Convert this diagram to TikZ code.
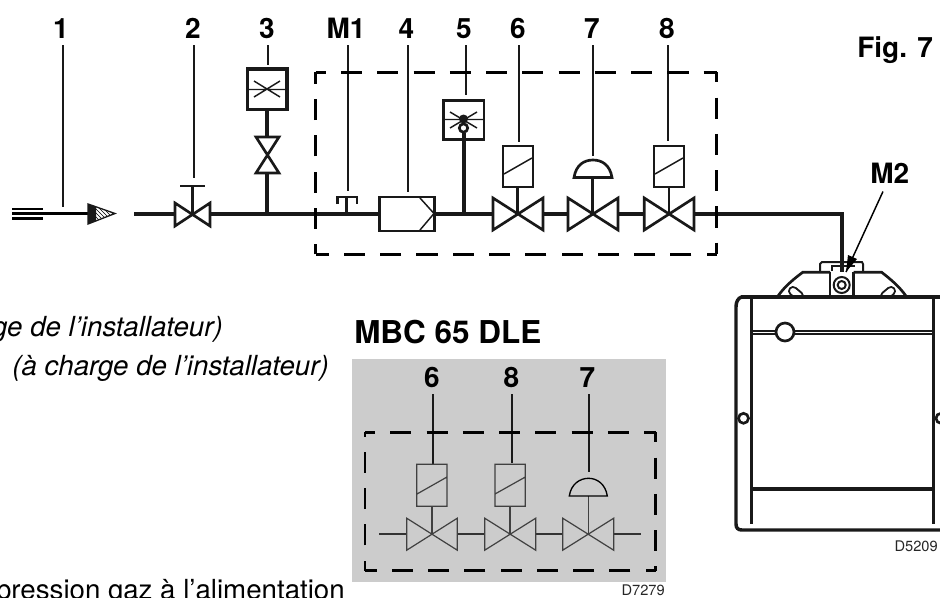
\documentclass[tikz,border=0pt]{standalone}
\usepackage{fontspec}
\setmainfont{TeX Gyre Heros}
\usetikzlibrary{patterns}
\tikzset{
  lbl/.style={font=\fontsize{21pt}{21pt}\selectfont\bfseries,inner sep=0pt,anchor=base},
  captxt/.style={font=\fontsize{20.75pt}{22pt}\selectfont\itshape,inner sep=0pt,anchor=base east},
  reftxt/.style={font=\fontsize{11pt}{11pt}\selectfont,inner sep=0pt,anchor=base east,text=black!85},
  leadline/.style={line width=1.5pt,black!90},
  pipeline/.style={line width=3pt,black!90},
  symline/.style={line width=2pt,black!90,line join=miter},
  fineline/.style={line width=1.1pt,black!90},
  dshline/.style={line width=2.2pt,black,dash pattern=on 15.8pt off 11.4pt,dash phase=8.2pt},
  gsym/.style={line width=.9pt,black!75},
  gpipe/.style={line width=1.3pt,black!80},
  bodyline/.style={line width=2.6pt,black!90},
  thinb/.style={line width=1.5pt,black!90}
}
\newcommand{\myvalve}[5]{%
  \draw[#5] (#1,#4-16) -- (#1,#4+16) -- (#2,#4-16) -- (#2,#4+16) -- cycle;}
\newcommand{\dbox}[4]{%
  \draw[dshline] (#1,#2) -- (#3,#2);
  \draw[dshline] (#3,#4) -- (#1,#4);
  \draw[dshline] (#1,#4) -- (#1,#2);
  \draw[dshline] (#3,#2) -- (#3,#4);}
\begin{document}
\begin{tikzpicture}[x=0.75pt,y=-0.75pt]
\useasboundingbox (0,0) rectangle (940,597);
\clip (0,0) rectangle (940,597);
% labels
\node[lbl] (l1) at (61,38) {1};
\node[lbl] (l2) at (193,38) {2};
\node[lbl] (l3) at (267,38) {3};
\node[lbl] (lm1) at (346,38) {M1};
\node[lbl] (l4) at (406.5,38) {4};
\node[lbl] (l5) at (464,38) {5};
\node[lbl] (l6) at (518,38) {6};
\node[lbl] (l7) at (592,38) {7};
\node[lbl] (l8) at (667,38) {8};
\node[lbl,anchor=base west] (fig) at (857,57) {Fig. 7};
\node[lbl,anchor=base west] (m2) at (870,183) {M2};
% leaders
\foreach \x/\yy in {63/207,194/178,268/65,348/191,408/192,466/95,519/142,593/156,668/141}
  \draw[leadline] (\x,45) -- (\x,\yy);
% item 1
\draw[line width=1.6pt] (12,209) -- (43,209) (12,213.5) -- (88,213.5) (12,218.5) -- (43,218.5);
\path[draw=black!90,line width=1pt,pattern=north west lines,pattern color=black] (88,204) -- (115,213.5) -- (88,224) -- cycle;
\fill[black!90] (88,204) -- (96,207) -- (96,221) -- (88,224) -- cycle;
% main pipe
\draw[pipeline] (134,213.5) -- (175,213.5);
\draw[pipeline] (210,213.5) -- (379,213.5);
\draw[pipeline] (435,213.5) -- (493,213.5);
\draw[pipeline] (543,213.5) -- (568,213.5);
\draw[pipeline] (618,213.5) -- (644,213.5);
\draw[pipeline,line join=miter] (694,213.5) -- (842.3,213.5) -- (842.3,272);
% valve 2
\draw[symline] (175,203) -- (175,226) -- (210,203) -- (210,226) -- cycle;
\draw[symline] (192.5,214) -- (192.5,186) (180,186) -- (205,186);
% item 3
\draw[symline,line width=2.6pt] (247.5,69) rectangle (287,109.5);
\draw[fineline] (249,89.5) -- (285,89.5) (254,81) -- (280,97) (254,97) -- (280,81);
\draw[pipeline] (267,110) -- (267,137);
\draw[symline] (256,137) -- (279,137) -- (256,173) -- (279,173) -- cycle;
\draw[pipeline] (267,173) -- (267,213.5);
% dashed box
\dbox{315.7}{72.3}{716.7}{254.3}
% M1
\draw[symline] (346.7,213) -- (346.7,197) (337.5,204) -- (337.5,197) -- (357,197) -- (357,204);
% filter
\draw[symline,fill=white] (379.5,197) rectangle (434.5,231);
\draw[fineline] (420,198) -- (434,213.5) -- (420,230);
% item 5
\draw[symline] (443.5,99) -- (443.5,139.5) -- (484,139.5) -- (484,99) (443.5,100.5) -- (484,100.5);
\draw[fineline] (444,119.5) -- (484,119.5) (450,112) -- (477,128) (450,128) -- (477,112);
\fill[black!90] (463.5,119) circle (4.5);
\draw[symline,fill=white] (463.5,128) circle (4.2);
\draw[pipeline] (463.8,133) -- (463.8,213.5);
% valve 6
\myvalve{493}{543}{517.5}{214}{symline}
\draw[symline] (517.5,214) -- (517.5,187);
\draw[symline,fill=white] (503,146) rectangle (533,187);
\draw[fineline] (504,174) -- (532,158);
% valve 7
\myvalve{568}{618}{592.7}{214}{symline}
\draw[symline] (592.7,214) -- (592.7,177.5);
\draw[symline,fill=white] (574,177.5) .. controls (576,165) and (584,160) .. (593,160) .. controls (602,160) and (610,165) .. (612,177.5) -- cycle;
% valve 8
\myvalve{644.3}{694}{669}{214}{symline}
\draw[symline] (669,214) -- (669,187);
\draw[symline,fill=white] (654,146) rectangle (684,187);
\draw[fineline] (655,174) -- (683,158);
% caption text
\node[captxt] (t1) at (223,336.7) {ge de l’installateur)};
\node[captxt] (t2) at (329,375) {(à charge de l’installateur)};
\node[captxt,font=\fontsize{20.75pt}{22pt}\selectfont,anchor=base east] (t3) at (345,599.5) {pression gaz à l’alimentation};
% MBC panel
\node[lbl,anchor=base west,font=\fontsize{23.6pt}{24pt}\selectfont\bfseries] (mbc) at (354,343) {MBC 65 DLE};
\fill[black!20] (352.3,359.3) rectangle (665.7,581.7);
\node[lbl] (g6) at (432,387) {6};
\node[lbl] (g8) at (511.5,387) {8};
\node[lbl] (g7) at (587.5,387) {7};
\foreach \x/\yy in {433/464,512/463,588.7/472}
  \draw[leadline] (\x,394) -- (\x,\yy);
\dbox{365}{432.3}{655.7}{570.7}
\draw[gpipe] (379.3,534) -- (406.7,534) (457.3,534) -- (484.7,534) (535.7,534) -- (562.7,534) (613.7,534) -- (641,534);
\myvalve{406.7}{457.3}{432}{534.2}{gsym}
\myvalve{484.7}{535.7}{510}{534.2}{gsym}
\myvalve{562.7}{613.7}{588}{534.2}{gsym}
\draw[gsym] (432,534) -- (432,506) (510,534) -- (510,506) (588.6,534) -- (588.6,496);
\draw[gsym] (416.7,464.3) rectangle (447,506.3) (417,494) -- (447,477);
\draw[gsym] (495,464.3) rectangle (525.3,506.3) (495,494) -- (525.3,477);
\draw[gsym,line width=1pt,black] (569.3,496) .. controls (571,484) and (580,478.3) .. (588.5,478.3) .. controls (597,478.3) and (605.5,484) .. (607.3,496) -- cycle;
\node[reftxt] (d1) at (665,595.5) {D7279};
% burner
\draw[bodyline] (741.5,297) .. controls (738,298) and (736,302) .. (736,307) -- (736,524) .. controls (736,528) and (738,530) .. (742,530) -- (940,530);
\draw[bodyline] (751.7,297) -- (751.7,523.5) (933.3,297) -- (933.3,523.5);
\draw[thinb] (752,330.5) -- (933,330.5) (752,334) -- (933,334);
\draw[bodyline] (752,489) -- (933,489);
\draw[thinb,line width=2pt,fill=white] (785,332) circle (9);
\draw[thinb,line width=2pt,fill=white] (743.5,418.3) circle (5);
\draw[thinb,line width=2pt,fill=white] (941,418.3) circle (5);
\draw[symline] (778,296) .. controls (785,286) and (795,278) .. (802.7,272.3) -- (830,272.3) (853.5,272.3) -- (881.7,272.3) .. controls (889,278) and (899,286) .. (906,296);
\draw[thinb] (820,271) -- (820,264) -- (822,262) -- (862,262) -- (863,264) -- (863,271);
\draw[thinb] (832,271) -- (832,266) -- (855,266);
\draw[symline] (830,272) -- (830,296) (853.5,272) -- (853.5,296);
\draw[thinb] (841.7,285) circle (8) (841.7,285) circle (4);
\draw[line width=7.5pt,black!90,line cap=round] (793,291) -- (799,296);
\draw[line width=4.5pt,white,line cap=round] (793,291) -- (799,296);
\draw[line width=7.5pt,black!90,line cap=round] (891,291) -- (885,296);
\draw[line width=4.5pt,white,line cap=round] (891,291) -- (885,296);
\fill[white] (780,298) rectangle (905,303);
\draw[bodyline] (741,297) -- (940,297);
% M2 pointer
\coordinate (m2a) at (883,191.5);
\coordinate (m2b) at (846,272);
\draw[line width=1.1pt] (m2a) -- (m2b);
\fill[black] (m2b) -- (848,255) -- (857,259) -- cycle;
\node[reftxt] (d2) at (938,551) {D5209};
\end{tikzpicture}
\end{document}
